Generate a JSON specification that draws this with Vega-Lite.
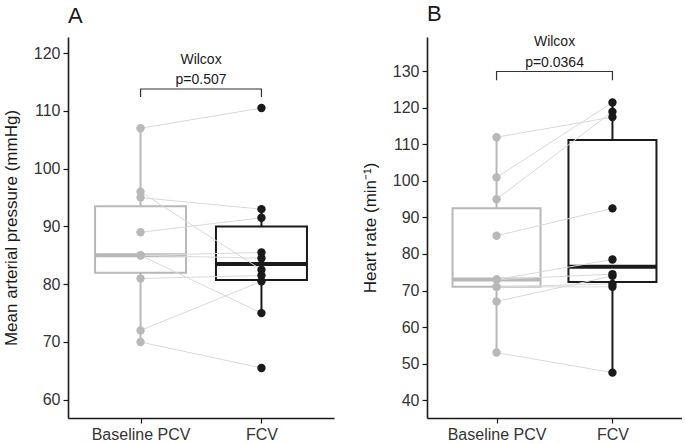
{
  "$schema": "https://vega.github.io/schema/vega-lite/v6.json",
  "padding": {"left": 2, "top": 3, "right": 0, "bottom": 0},
  "spacing": 27,
  "config": {
    "font": "Liberation Sans",
    "view": {"stroke": null},
    "axis": {"grid": false, "domainColor": "#1a1a1a", "domainWidth": 1.6, "tickColor": "#1a1a1a", "tickWidth": 1.2, "tickSize": 5, "labelFontSize": 16, "labelColor": "#333333", "labelPadding": 3, "titleFontSize": 17, "titleFontWeight": "normal", "titleColor": "#1a1a1a", "titlePadding": 13},
    "title": {"fontSize": 22, "fontWeight": "normal", "anchor": "start", "frame": "group", "offset": 9, "color": "#1a1a1a"}
  },
  "datasets": {
    "map": [
      {"id": 1, "condition": "Baseline PCV", "value": 107}, {"id": 1, "condition": "FCV", "value": 110.5},
      {"id": 2, "condition": "Baseline PCV", "value": 96}, {"id": 2, "condition": "FCV", "value": 82.5},
      {"id": 3, "condition": "Baseline PCV", "value": 95}, {"id": 3, "condition": "FCV", "value": 93},
      {"id": 4, "condition": "Baseline PCV", "value": 89}, {"id": 4, "condition": "FCV", "value": 91.5},
      {"id": 5, "condition": "Baseline PCV", "value": 85}, {"id": 5, "condition": "FCV", "value": 85.5},
      {"id": 6, "condition": "Baseline PCV", "value": 85}, {"id": 6, "condition": "FCV", "value": 84.5},
      {"id": 7, "condition": "Baseline PCV", "value": 85}, {"id": 7, "condition": "FCV", "value": 75},
      {"id": 8, "condition": "Baseline PCV", "value": 81}, {"id": 8, "condition": "FCV", "value": 81.5},
      {"id": 9, "condition": "Baseline PCV", "value": 72}, {"id": 9, "condition": "FCV", "value": 80.5},
      {"id": 10, "condition": "Baseline PCV", "value": 70}, {"id": 10, "condition": "FCV", "value": 65.5}
    ],
    "hr": [
      {"id": 1, "condition": "Baseline PCV", "value": 53}, {"id": 1, "condition": "FCV", "value": 47.5},
      {"id": 2, "condition": "Baseline PCV", "value": 67}, {"id": 2, "condition": "FCV", "value": 74},
      {"id": 3, "condition": "Baseline PCV", "value": 71}, {"id": 3, "condition": "FCV", "value": 71},
      {"id": 4, "condition": "Baseline PCV", "value": 71}, {"id": 4, "condition": "FCV", "value": 71.8},
      {"id": 5, "condition": "Baseline PCV", "value": 73}, {"id": 5, "condition": "FCV", "value": 74.5},
      {"id": 6, "condition": "Baseline PCV", "value": 73}, {"id": 6, "condition": "FCV", "value": 78.5},
      {"id": 7, "condition": "Baseline PCV", "value": 85}, {"id": 7, "condition": "FCV", "value": 92.5},
      {"id": 8, "condition": "Baseline PCV", "value": 95}, {"id": 8, "condition": "FCV", "value": 119},
      {"id": 9, "condition": "Baseline PCV", "value": 101}, {"id": 9, "condition": "FCV", "value": 121.5},
      {"id": 10, "condition": "Baseline PCV", "value": 112}, {"id": 10, "condition": "FCV", "value": 117.5}
    ],
    "bracketA": [
      {"condition": "Baseline PCV", "value": 112.4, "k": 1},
      {"condition": "Baseline PCV", "value": 113.8, "k": 2},
      {"condition": "FCV", "value": 113.8, "k": 3},
      {"condition": "FCV", "value": 112.4, "k": 4}
    ],
    "labelA": [
      {"condition": "Baseline PCV", "label": "Wilcox", "value": 118.1},
      {"condition": "Baseline PCV", "label": "p=0.507", "value": 114.7}
    ],
    "bracketB": [
      {"condition": "Baseline PCV", "value": 127.6, "k": 1},
      {"condition": "Baseline PCV", "value": 130, "k": 2},
      {"condition": "FCV", "value": 130, "k": 3},
      {"condition": "FCV", "value": 127.6, "k": 4}
    ],
    "labelB": [
      {"condition": "Baseline PCV", "label": "Wilcox", "value": 136.9},
      {"condition": "Baseline PCV", "label": "p=0.0364", "value": 131.3}
    ]
  },
  "hconcat": [
    {
      "title": "A",
      "width": 266,
      "height": 381,
      "data": {"name": "map"},
      "encoding": {
        "x": {"field": "condition", "type": "nominal", "sort": ["Baseline PCV", "FCV"], "scale": {"type": "point", "padding": 0.6}, "axis": {"title": null, "labelAngle": 0}},
        "y": {"field": "value", "type": "quantitative", "scale": {"domain": [56.84, 122.8], "nice": false, "zero": false}, "axis": {"title": "Mean arterial pressure (mmHg)", "values": [60, 70, 80, 90, 100, 110, 120]}}
      },
      "layer": [
        {
          "transform": [{"filter": "datum.condition === 'Baseline PCV'"}],
          "mark": {"type": "boxplot", "extent": 1.5, "size": 91, "box": {"fill": "white", "stroke": "#b8b8b8", "strokeWidth": 2}, "median": {"color": "#b8b8b8", "thickness": 4, "opacity": 1}, "rule": {"color": "#b8b8b8", "strokeWidth": 2}, "ticks": false, "outliers": false}
        },
        {
          "transform": [{"filter": "datum.condition === 'FCV'"}],
          "mark": {"type": "boxplot", "extent": 1.5, "size": 91, "box": {"fill": "white", "stroke": "#1a1a1a", "strokeWidth": 2}, "median": {"color": "#1a1a1a", "thickness": 4, "opacity": 1}, "rule": {"color": "#1a1a1a", "strokeWidth": 2}, "ticks": false, "outliers": false}
        },
        {
          "mark": {"type": "line", "color": "#d9d9d9", "strokeWidth": 1},
          "encoding": {"detail": {"field": "id", "type": "nominal"}}
        },
        {
          "mark": {"type": "circle", "size": 70, "opacity": 1},
          "encoding": {"color": {"field": "condition", "type": "nominal", "scale": {"domain": ["Baseline PCV", "FCV"], "range": ["#b8b8b8", "#1a1a1a"]}, "legend": null}}
        },
        {
          "data": {"name": "bracketA"},
          "mark": {"type": "line", "color": "#333333", "strokeWidth": 1.2},
          "encoding": {"order": {"field": "k", "type": "quantitative"}}
        },
        {
          "data": {"name": "labelA"},
          "mark": {"type": "text", "fontSize": 14, "color": "#1a1a1a", "align": "center", "baseline": "alphabetic", "dx": 60.5},
          "encoding": {"text": {"field": "label"}}
        }
      ]
    },
    {
      "title": "B",
      "width": 255,
      "height": 381,
      "data": {"name": "hr"},
      "encoding": {
        "x": {"field": "condition", "type": "nominal", "sort": ["Baseline PCV", "FCV"], "scale": {"type": "point", "padding": 0.6}, "axis": {"title": null, "labelAngle": 0}},
        "y": {"field": "value", "type": "quantitative", "scale": {"domain": [35.07, 139.45], "nice": false, "zero": false}, "axis": {"title": "Heart rate (min⁻¹)", "values": [40, 50, 60, 70, 80, 90, 100, 110, 120, 130]}}
      },
      "layer": [
        {
          "transform": [{"filter": "datum.condition === 'Baseline PCV'"}],
          "mark": {"type": "boxplot", "extent": 1.5, "size": 88, "box": {"fill": "white", "stroke": "#b8b8b8", "strokeWidth": 2}, "median": {"color": "#b8b8b8", "thickness": 4, "opacity": 1}, "rule": {"color": "#b8b8b8", "strokeWidth": 2}, "ticks": false, "outliers": false}
        },
        {
          "transform": [{"filter": "datum.condition === 'FCV'"}],
          "mark": {"type": "boxplot", "extent": 1.5, "size": 88, "box": {"fill": "white", "stroke": "#1a1a1a", "strokeWidth": 2}, "median": {"color": "#1a1a1a", "thickness": 4, "opacity": 1}, "rule": {"color": "#1a1a1a", "strokeWidth": 2}, "ticks": false, "outliers": false}
        },
        {
          "mark": {"type": "line", "color": "#d9d9d9", "strokeWidth": 1},
          "encoding": {"detail": {"field": "id", "type": "nominal"}}
        },
        {
          "mark": {"type": "circle", "size": 70, "opacity": 1},
          "encoding": {"color": {"field": "condition", "type": "nominal", "scale": {"domain": ["Baseline PCV", "FCV"], "range": ["#b8b8b8", "#1a1a1a"]}, "legend": null}}
        },
        {
          "data": {"name": "bracketB"},
          "mark": {"type": "line", "color": "#333333", "strokeWidth": 1.2},
          "encoding": {"order": {"field": "k", "type": "quantitative"}}
        },
        {
          "data": {"name": "labelB"},
          "mark": {"type": "text", "fontSize": 14, "color": "#1a1a1a", "align": "center", "baseline": "alphabetic", "dx": 58},
          "encoding": {"text": {"field": "label"}}
        }
      ]
    }
  ]
}
